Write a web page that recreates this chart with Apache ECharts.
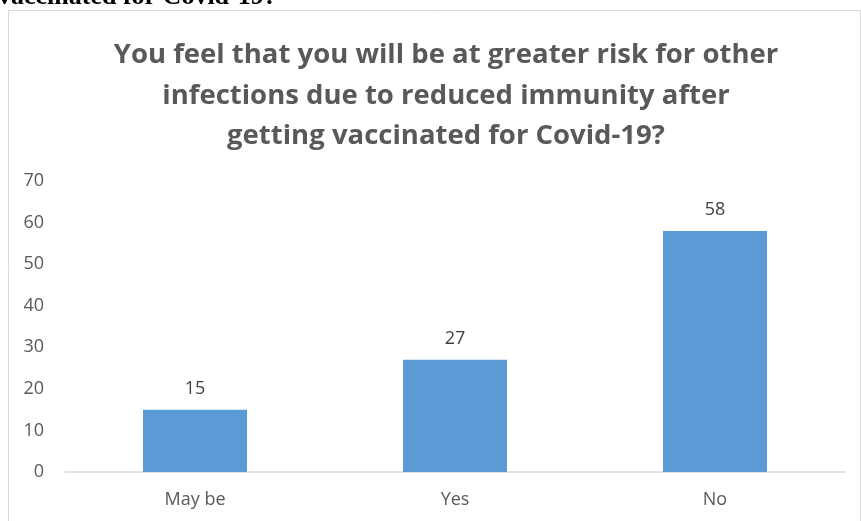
<!DOCTYPE html>
<html>
<head>
<meta charset="utf-8">
<script src="https://cdn.jsdelivr.net/npm/echarts@6/dist/echarts.min.js"></script>
<style>html,body{margin:0;padding:0;background:#fff}#c{width:861px;height:521px}</style>
</head>
<body>
<div id="c"></div>
<script>
const categories = ["May be", "Yes", "No"];
const values = [15, 27, 58];
const yTicks = [0, 10, 20, 30, 40, 50, 60, 70];
const titleText = "You feel that you will be at greater risk for other\ninfections due to reduced immunity after\ngetting vaccinated for Covid-19?";
const topCutText = "vaccinated for Covid-19?";

const chart = echarts.init(document.getElementById('c'), null, {renderer: 'canvas'});
chart.setOption({
  animation: false,
  backgroundColor: '#ffffff',
  graphic: [
    {type: 'rect', shape: {x: 8.5, y: 10.5, width: 852, height: 530}, style: {fill: 'none', stroke: '#d9d9d9', lineWidth: 1}, z: -1},
    {type: 'text', left: -2, top: -16, style: {text: topCutText, font: 'bold 26px "Liberation Serif"', fill: '#000'}}
  ],
  title: {
    text: titleText,
    left: 441, top: 30, textAlign: 'center',
    textStyle: {fontFamily: 'Open Sans', fontWeight: 'bold', fontSize: 27.5, color: '#595959', lineHeight: 40.5}
  },
  grid: {left: 65, right: 16, top: 181, bottom: 49, containLabel: false},
  xAxis: {
    type: 'category', data: categories,
    axisLine: {lineStyle: {color: '#d9d9d9', width: 1.5}},
    axisTick: {show: false},
    axisLabel: {color: '#595959', fontFamily: 'Open Sans', fontSize: 18, margin: 19}
  },
  yAxis: {
    type: 'value', min: yTicks[0], max: yTicks[yTicks.length - 1], interval: 10,
    splitLine: {show: false}, axisLine: {show: false}, axisTick: {show: false},
    axisLabel: {color: '#595959', fontFamily: 'Open Sans', fontSize: 18, margin: 21}
  },
  series: [{
    type: 'bar', data: values, barCategoryGap: '60%',
    itemStyle: {color: '#5b9bd5'},
    label: {show: true, position: 'top', distance: 12, color: '#404040', fontFamily: 'Open Sans', fontSize: 18}
  }]
});
</script>
</body>
</html>
